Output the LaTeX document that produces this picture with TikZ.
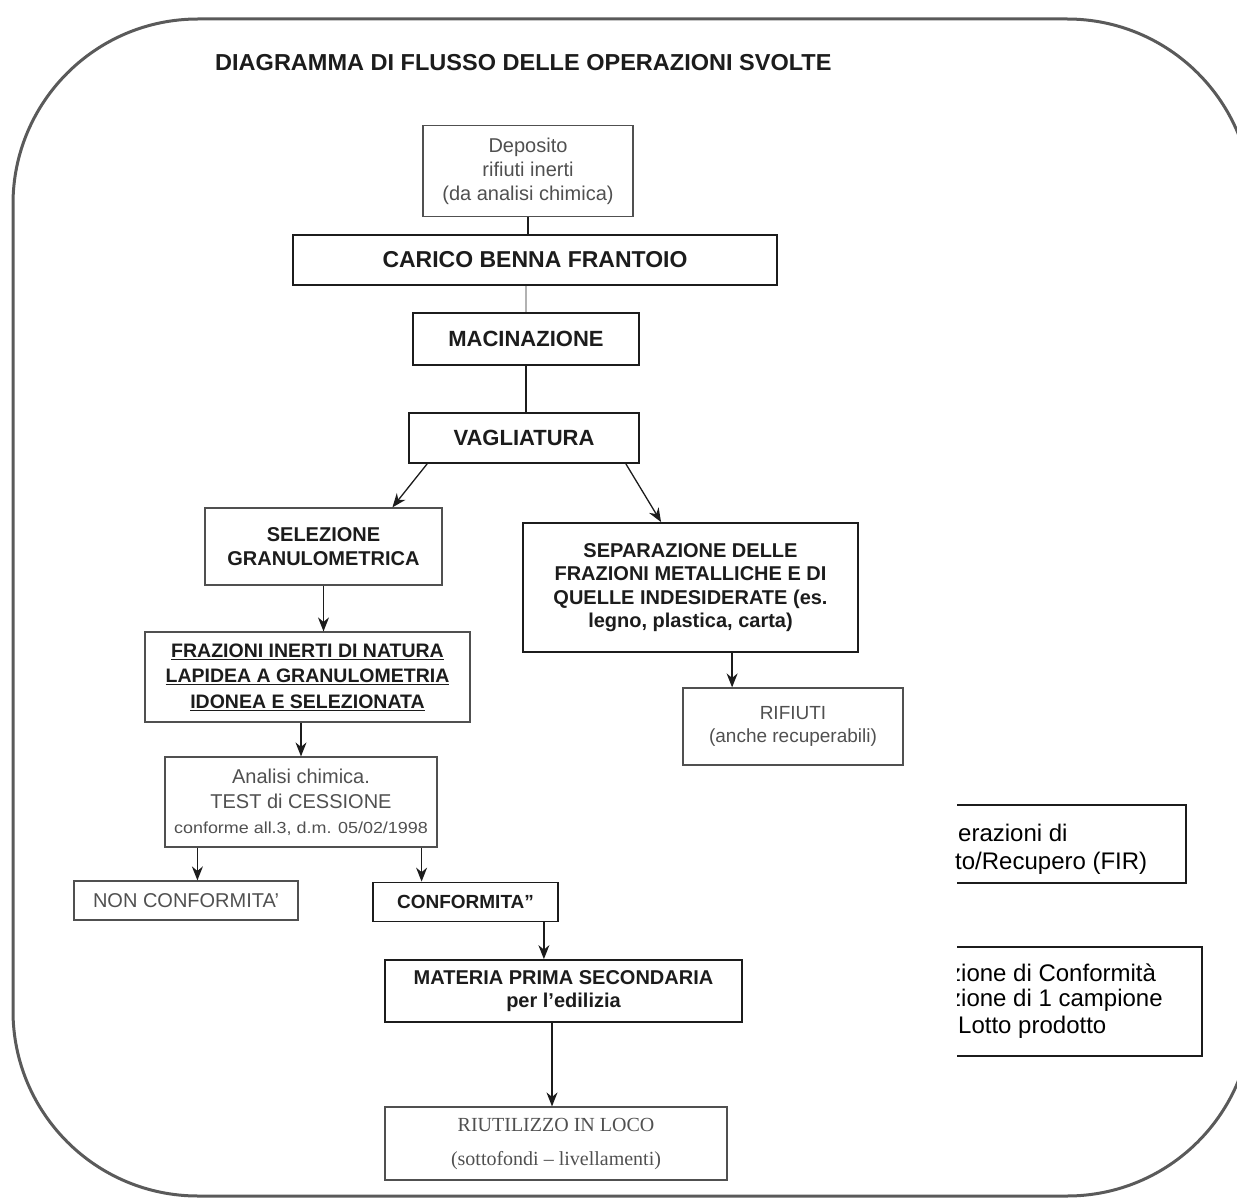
\documentclass[tikz,border=0pt]{standalone}
\usepackage{fontspec}
\setmainfont{Liberation Sans}
\newfontfamily\serifrm[Ligatures=TeX]{Liberation Serif}
\usetikzlibrary{arrows.meta}
\definecolor{ink}{RGB}{28,28,28}
\definecolor{soft}{RGB}{80,80,80}
\definecolor{frame}{RGB}{90,90,90}
\begin{document}
\begin{tikzpicture}[x=1pt,y=-1pt,
  box/.style={draw=ink, line width=1.8pt, align=center, inner sep=0pt, text=ink},
  lbox/.style={draw=soft, line width=1.2pt, align=center, inner sep=0pt, text=soft},
  arr/.style={draw=ink, line width=1.3pt, -{Stealth[length=14pt,width=11pt]}},
  ln/.style={draw=ink, line width=1.3pt},
  side/.style={anchor=west, inner sep=0pt, text=black, font=\fontsize{24}{30}\selectfont}]
\useasboundingbox (0,0) rectangle (1237,1198);
\draw[frame, line width=3pt, rounded corners=185pt] (13,19) rectangle (1252,1196);

\node[anchor=west, inner sep=0pt, text=ink, font=\fontsize{21}{24}\selectfont\bfseries] (title) at (215,63)
  {\scalebox{1.12}[1.1]{DIAGRAMMA DI FLUSSO DELLE OPERAZIONI SVOLTE}};

\node[lbox, minimum width=210pt, minimum height=91pt, font=\fontsize{20}{24}\selectfont] (dep) at (528,171)
  {Deposito\\rifiuti inerti\\(da analisi chimica)};
\node[box, minimum width=484pt, minimum height=50pt, font=\fontsize{23}{27}\selectfont\bfseries] (car) at (535,260)
  {CARICO BENNA FRANTOIO};
\node[box, minimum width=226pt, minimum height=52pt, font=\fontsize{22}{26}\selectfont\bfseries] (mac) at (526,339)
  {MACINAZIONE};
\node[box, minimum width=230pt, minimum height=50pt, font=\fontsize{22}{26}\selectfont\bfseries] (vag) at (524,438)
  {VAGLIATURA};
\node[lbox, text=ink, minimum width=237pt, minimum height=77pt, font=\fontsize{20}{24}\selectfont\bfseries] (sel) at (323.5,546.5)
  {SELEZIONE\\GRANULOMETRICA};
\node[lbox, text=ink, minimum width=325pt, minimum height=90pt, font=\fontsize{19.5}{25.5}\selectfont\bfseries] (fra) at (307.5,677)
  {\underline{FRAZIONI INERTI DI NATURA}\\\underline{LAPIDEA A GRANULOMETRIA}\\\underline{IDONEA E SELEZIONATA}};
\node[lbox, minimum width=272pt, minimum height=90pt, font=\fontsize{20}{25}\selectfont] (ana) at (301,802)
  {Analisi chimica.\\TEST di CESSIONE\\{\fontsize{16}{25}\selectfont\scalebox{1.12}[1]{conforme all.3, d.m. 05/02/1998}}};
\node[lbox, minimum width=224pt, minimum height=39pt, font=\fontsize{20}{24}\selectfont] (non) at (186,900.5)
  {NON CONFORMITA'};
\node[box, minimum width=185pt, minimum height=39pt, font=\fontsize{19}{23}\selectfont\bfseries] (con) at (465.5,902)
  {CONFORMITA''};
\node[box, minimum width=357pt, minimum height=62pt, font=\fontsize{20}{23}\selectfont\bfseries] (mat) at (563.5,991)
  {MATERIA PRIMA SECONDARIA\\per l'edilizia};
\node[lbox, minimum width=342pt, minimum height=73pt, font=\serifrm\fontsize{20}{34}\selectfont] (riu) at (556,1143.5)
  {RIUTILIZZO IN LOCO\\(sottofondi – livellamenti)};
\node[box, minimum width=335pt, minimum height=129pt, font=\fontsize{20}{23.5}\selectfont\bfseries] (sep) at (690.5,587.5)
  {SEPARAZIONE DELLE\\FRAZIONI METALLICHE E DI\\QUELLE INDESIDERATE (es.\\legno, plastica, carta)};
\node[lbox, minimum width=220pt, minimum height=77pt, font=\fontsize{19}{23}\selectfont] (rif) at (793,726.5)
  {RIFIUTI\\(anche recuperabili)};

% right-hand boxes, cut at their left side
\draw[ink, line width=1.6pt] (957,805) -- (1186,805) -- (1186,883) -- (957,883);
\node[side] (r1a) at (958,833) {erazioni di};
\node[side] (r1b) at (955,863) {to/Recupero (FIR)};
\draw[ink, line width=1.6pt] (957,947) -- (1202,947) -- (1202,1056) -- (957,1056);
\begin{scope}
  \clip (957,940) rectangle (1237,1015);
  \node[side] (r2a) at (949,973) {zione di Conformità};
  \node[side] (r2b) at (949,1000) {zione di 1 campione};
\end{scope}
\node[side] (r2c) at (958,1027) {Lotto prodotto};

% connectors
\draw[ln] (dep.south) -- (dep.south |- car.north);
\draw[ln, draw=gray!60] (mac.north |- car.south) -- (mac.north);
\draw[ln] (mac.south) -- (mac.south |- vag.north);
\draw[arr] ([xshift=19pt]vag.south west) -- ([xshift=188pt]sel.north west);
\draw[arr] ([xshift=-14pt]vag.south east) -- ([xshift=139pt]sep.north west);
\draw[arr] (sel.south) -- (sel.south |- fra.north);
\draw[arr] (ana.north |- fra.south) -- (ana.north);
\coordinate (a1) at ([xshift=33pt]ana.south west);
\draw[arr] (a1) -- (a1 |- non.north);
\coordinate (a2) at ([xshift=-16pt]ana.south east);
\draw[arr] (a2) -- (a2 |- con.north);
\coordinate (c1) at ([xshift=-15pt]con.south east);
\draw[arr] (c1) -- (c1 |- mat.north);
\coordinate (m1) at ([xshift=-4pt]riu.north |- mat.south);
\draw[arr] (m1) -- (m1 |- riu.north);
\coordinate (s1) at ([xshift=210pt]sep.south west);
\draw[arr] (s1) -- (s1 |- rif.north);
\end{tikzpicture}
\end{document}
